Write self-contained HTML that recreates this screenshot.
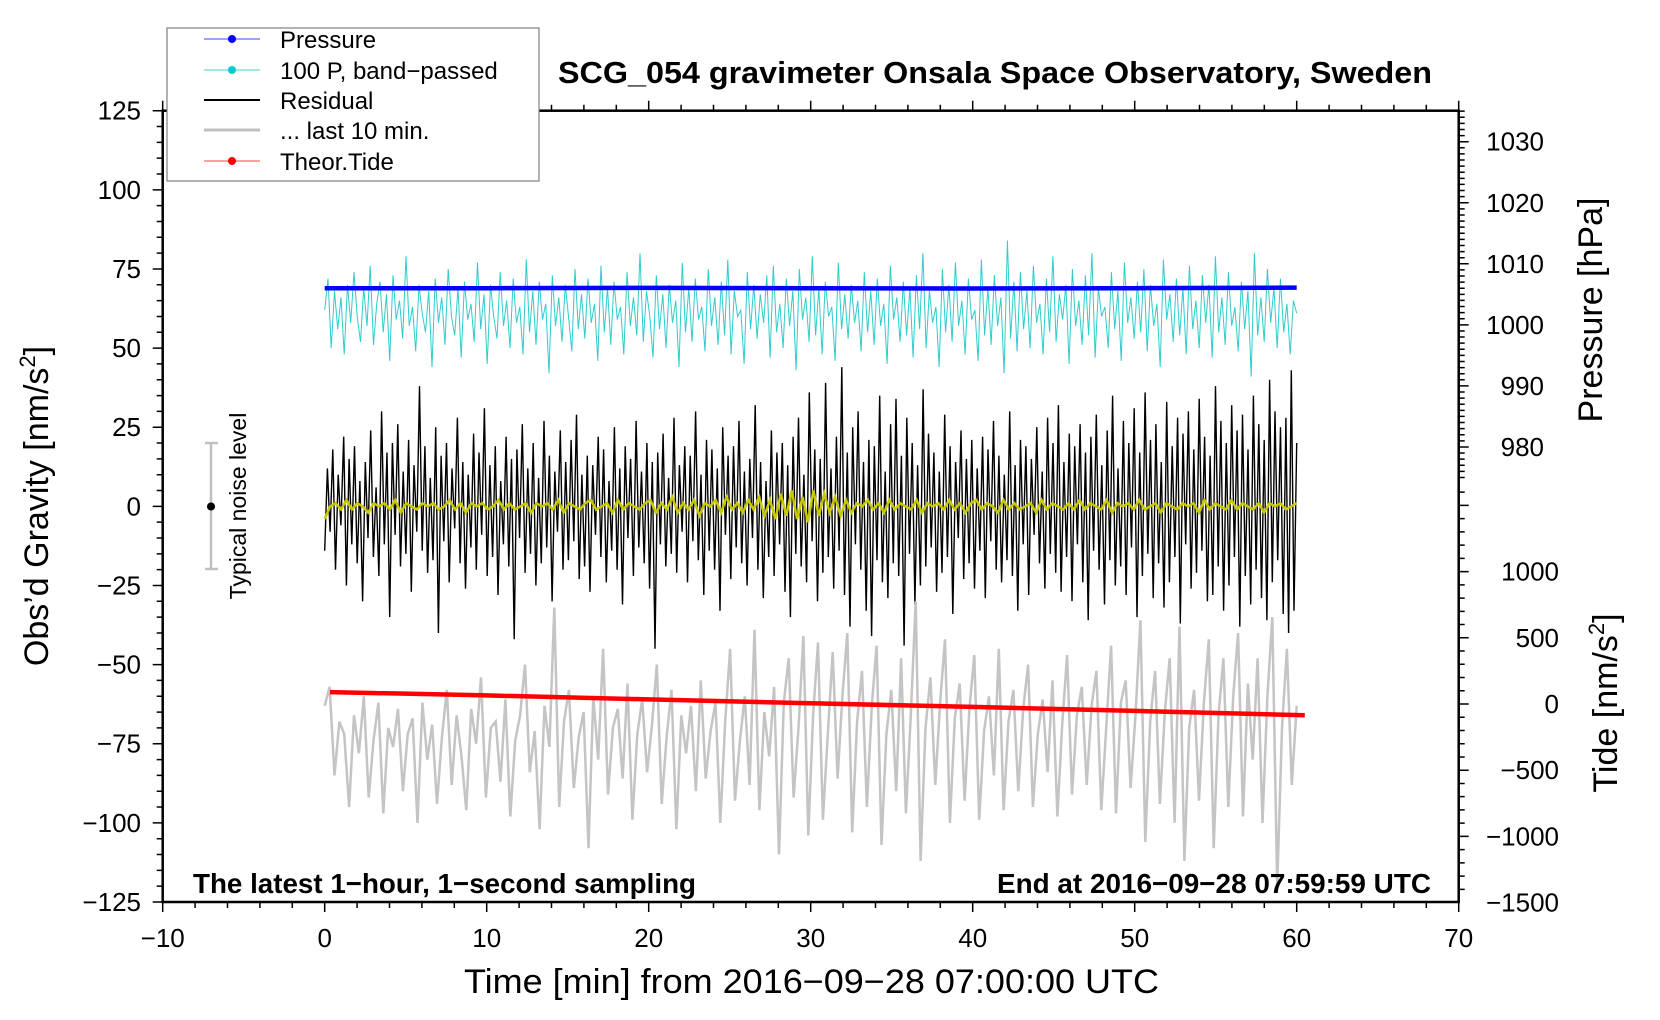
<!DOCTYPE html>
<html><head><meta charset="utf-8"><title>SCG_054 gravimeter</title>
<style>html,body{margin:0;padding:0;background:#fff}svg{display:block}text{font-family:"Liberation Sans",Arial,sans-serif}</style></head>
<body>
<svg id="chart" width="1660" height="1020" viewBox="0 0 1660 1020" xmlns="http://www.w3.org/2000/svg">
<rect x="0" y="0" width="1660" height="1020" fill="#fff"/>
<g id="series"></g>
<g id="axes"></g>
<text x="558" y="83" font-size="31" font-weight="bold" textLength="874" lengthAdjust="spacingAndGlyphs">SCG_054 gravimeter Onsala Space Observatory, Sweden</text>
<text x="464" y="993" font-size="34" textLength="695" lengthAdjust="spacingAndGlyphs">Time [min] from 2016−09−28 07:00:00 UTC</text>
<text transform="translate(48,506) rotate(-90)" text-anchor="middle" font-size="34">Obs’d Gravity [nm/s<tspan font-size="22" dy="-13">2</tspan><tspan dy="13">]</tspan></text>
<text transform="translate(1602,310) rotate(-90)" text-anchor="middle" font-size="34">Pressure [hPa]</text>
<text transform="translate(1617,703) rotate(-90)" text-anchor="middle" font-size="34">Tide [nm/s<tspan font-size="22" dy="-13">2</tspan><tspan dy="13">]</tspan></text>
<text x="193" y="893" font-size="28" font-weight="bold" textLength="503" lengthAdjust="spacingAndGlyphs">The latest 1−hour, 1−second sampling</text>
<text x="1431" y="893" font-size="28" font-weight="bold" text-anchor="end" textLength="434" lengthAdjust="spacingAndGlyphs">End at 2016−09−28 07:59:59 UTC</text>
<g>
<line x1="211" y1="443" x2="211" y2="569" stroke="#c0c0c0" stroke-width="2.5"/>
<line x1="205" y1="443" x2="218" y2="443" stroke="#c0c0c0" stroke-width="2.5"/>
<line x1="205" y1="569" x2="218" y2="569" stroke="#c0c0c0" stroke-width="2.5"/>
<circle cx="211" cy="506.5" r="4" fill="#000"/>
<text transform="translate(246,506) rotate(-90)" text-anchor="middle" font-size="23">Typical noise level</text>
</g>
<g>
<rect x="167" y="28" width="372" height="153" fill="#fff" stroke="#808080" stroke-width="1.2"/>
<g><line x1="204" y1="39" x2="260" y2="39" stroke="#4040ff" stroke-width="1"/><circle cx="232" cy="39" r="4" fill="#0000ff"/><text x="280" y="48" font-size="24">Pressure</text></g>
<g><line x1="204" y1="70" x2="260" y2="70" stroke="#40d0d0" stroke-width="1"/><circle cx="232" cy="70" r="4" fill="#00cccc"/><text x="280" y="79" font-size="24">100 P, band−passed</text></g>
<g><line x1="204" y1="100" x2="260" y2="100" stroke="#000" stroke-width="2"/><text x="280" y="109" font-size="24">Residual</text></g>
<g><line x1="204" y1="130" x2="260" y2="130" stroke="#c0c0c0" stroke-width="3"/><text x="280" y="139" font-size="24">... last 10 min.</text></g>
<g><line x1="204" y1="161" x2="260" y2="161" stroke="#ff4040" stroke-width="1"/><circle cx="232" cy="161" r="4" fill="#ff0000"/><text x="280" y="170" font-size="24">Theor.Tide</text></g>
</g>
</svg>
<script>
const residual=[-14,12,-8,18,-20,10,-6,22,-25,15,-12,19,-18,8,-30,14,-10,24,-16,6,-22,30,-12,17,-35,20,-9,26,-19,11,
-15,21,-27,13,-8,38,-14,19,-21,9,-17,25,-40,16,-11,20,-24,12,-7,28,-18,14,-26,10,-13,23,-20,17,-9,31,
-22,13,-16,19,-28,8,-12,22,-19,15,-42,18,-10,26,-21,12,-15,20,-25,9,-18,27,-13,16,-30,11,-8,24,-20,14,
-17,21,-11,29,-23,10,-19,16,-27,13,-9,22,-16,18,-24,8,-14,25,-20,12,-31,19,-10,15,-22,27,-13,11,-18,20,
-26,14,-45,17,-12,23,-19,9,-15,28,-21,13,-8,19,-24,16,-11,30,-17,10,-28,21,-14,18,-20,12,-33,25,-9,16,
-23,19,-13,27,-18,11,-25,15,-10,32,-20,14,-29,8,-16,24,-22,17,-12,20,-27,13,-35,22,-15,28,-19,10,-24,36,
-11,18,-30,15,-21,39,-16,12,-26,22,-14,44,-28,17,-38,25,-12,30,-20,14,-33,21,-41,19,-17,35,-24,11,-29,26,
-18,34,-22,16,-44,28,-15,20,-31,13,-25,37,-19,23,-13,17,-27,11,-21,29,-16,19,-34,14,-10,24,-23,15,-18,21,
-26,12,-14,22,-29,18,-11,27,-20,16,-24,10,-17,30,-22,13,-33,21,-12,19,-28,15,-9,25,-18,11,-26,28,-15,20,
-21,32,-27,14,-16,23,-30,19,-12,26,-24,17,-36,22,-14,29,-20,13,-31,24,-17,35,-25,12,-19,27,-28,20,-13,31,
-35,17,-22,36,-15,21,-29,26,-18,14,-32,33,-24,19,-16,28,-37,23,-12,30,-26,18,-21,34,-14,22,-30,16,-28,38,
-19,27,-33,20,-25,32,-16,24,-38,29,-22,18,-31,35,-20,26,-29,21,-36,40,-24,30,-17,25,-34,28,-40,43,-33,20];
const smoothed=[-4,0,1,-1,2,-1,1,0,-2,1,0,1,-1,2,-2,1,0,-1,1,0,
1,-1,0,2,-1,1,-2,1,0,1,-1,0,2,-1,1,-1,0,1,-2,1,
0,1,-1,2,-2,1,0,-1,1,2,-1,0,1,-2,2,-1,1,0,-1,1,
2,-2,1,-1,3,-2,1,-1,2,-3,1,0,2,-2,3,-1,1,-2,2,-1,
3,-3,2,-4,4,-3,5,-4,3,-5,5,-3,4,-2,3,-3,2,-2,1,0,
2,-1,1,-2,2,-1,1,0,-1,2,-2,1,0,1,-1,2,-1,1,-2,1,
2,-1,1,0,-2,2,-1,1,-1,0,1,-2,2,-1,1,0,-1,1,-1,2,
-1,1,0,-1,2,-2,1,0,1,-1,2,-1,0,1,-2,1,0,-1,1,0,
1,-2,2,-1,1,0,-1,2,-1,1,0,-1,1,-2,1,0,1,-1,0,1];
const bandPassed=[62,72,50,68,56,66,48,70,58,74,60,52,69,57,76,51,64,71,55,67,
46,73,59,65,53,79,57,63,49,70,61,55,68,44,72,58,66,51,75,60,
54,69,47,71,59,64,52,77,56,67,45,70,60,53,74,57,65,50,72,58,
63,48,78,55,68,51,71,59,64,42,73,57,66,52,70,60,49,75,56,67,
53,72,58,64,46,76,55,69,51,71,59,63,48,74,57,66,54,80,52,68,
60,47,73,56,67,50,70,58,65,44,77,55,69,52,72,59,63,49,75,57,
66,51,71,54,78,48,68,60,62,45,74,56,70,53,67,58,73,47,76,55,
64,50,72,57,68,43,75,59,66,52,79,54,69,48,71,60,63,46,77,56,
67,53,70,58,65,49,74,55,68,51,72,57,64,45,76,59,66,52,71,54,
69,47,73,56,80,50,68,58,63,44,75,55,70,52,77,57,65,48,72,59,
62,46,78,54,69,51,73,57,66,42,84,53,71,49,74,56,68,50,76,58,
64,48,72,55,79,52,67,59,70,45,75,57,65,51,73,54,80,47,69,60,
63,50,74,56,68,46,77,58,66,53,71,55,75,49,70,57,64,44,78,59,
67,52,72,54,69,48,76,56,65,50,73,58,70,47,79,55,66,51,74,57,
63,49,71,56,68,41,80,54,66,52,75,58,69,50,72,55,64,48,65,61];
const last10=[-63,-57,-85,-68,-72,-95,-66,-78,-60,-92,-74,-62,-97,-70,-76,-64,-90,-72,-67,-100,
-62,-80,-69,-94,-73,-58,-88,-66,-79,-96,-64,-75,-54,-92,-70,-68,-87,-61,-98,-74,
-66,-50,-84,-71,-102,-63,-76,-32,-95,-68,-58,-89,-73,-65,-108,-60,-80,-45,-91,-70,
-64,-86,-56,-99,-72,-61,-84,-69,-50,-94,-73,-58,-102,-66,-78,-63,-90,-55,-86,-71,
-62,-100,-68,-45,-93,-74,-60,-88,-39,-96,-65,-79,-57,-110,-62,-48,-92,-70,-41,-104,
-66,-43,-99,-72,-46,-86,-60,-40,-103,-68,-52,-95,-63,-44,-107,-72,-58,-90,-48,-97,
-66,-30,-112,-70,-54,-88,-62,-42,-100,-67,-56,-93,-64,-47,-99,-71,-60,-85,-45,-96,
-68,-58,-90,-64,-50,-95,-72,-61,-84,-55,-98,-69,-47,-91,-66,-57,-88,-63,-52,-96,
-70,-44,-97,-62,-55,-89,-66,-36,-106,-68,-52,-94,-65,-48,-100,-38,-112,-70,-58,-93,
-62,-42,-108,-66,-48,-95,-60,-40,-98,-56,-80,-48,-100,-60,-35,-120,-70,-45,-88,-63];
const pressureTimes=[0,10,20,30,40,50,60];
const pressureHPa=[1006.0,1006.0,1006.05,1006.0,1005.95,1006.0,1006.1];
const tideTimes=[0.33,10,20,30,40,50,60.5];
const tideNms2=[90,65,35,5,-22,-52,-85];
const xTicks=[-10,0,10,20,30,40,50,60,70];
const yTicks=[-125,-100,-75,-50,-25,0,25,50,75,100,125];
const pTicks=[980,990,1000,1010,1020,1030];
const tTicks=[-1500,-1000,-500,0,500,1000];

const NS='http://www.w3.org/2000/svg';
const L=162.7,R=1458.7,T=110.7,B=902;
const X=t=>L+(t+10)/80*(R-L);
const Y=v=>B-(v+125)/250*(B-T);
const P=p=>141.7+(1030-p)*6.105;
const TD=v=>704-v*0.1324;
const S=document.getElementById('series'),A=document.getElementById('axes');
function el(tag,attrs,parent){const e=document.createElementNS(NS,tag);for(const k in attrs)e.setAttribute(k,attrs[k]);parent.appendChild(e);return e;}
function path(xs,ys){return xs.map((x,i)=>(i?'L':'M')+x.toFixed(1)+' '+ys[i].toFixed(1)).join('');}
function seriesLine(vals,t0,t1,fy){const n=vals.length;const xs=vals.map((v,i)=>X(t0+(t1-t0)*i/(n-1)));return path(xs,vals.map(fy));}

let e;
e=el('path',{d:seriesLine(bandPassed,0,60,Y),fill:'none',stroke:'#30cccc','stroke-width':1},S);


e=el('path',{d:path(pressureTimes.map(X),pressureHPa.map(P)),fill:'none',stroke:'#0000ff','stroke-width':4.5},S);


e=el('path',{d:seriesLine(residual,0,60,Y),fill:'none',stroke:'#000','stroke-width':1.4},S);


e=el('path',{d:seriesLine(smoothed,0,60,Y),fill:'none',stroke:'#c8c800','stroke-width':2.5},S);


e=el('path',{d:seriesLine(last10,0,60,Y),fill:'none',stroke:'#c4c4c4','stroke-width':2.5},S);


e=el('path',{d:path(tideTimes.map(X),tideNms2.map(TD)),fill:'none',stroke:'#ff0000','stroke-width':4.5},S);



e=el('rect',{x:L,y:T,width:R-L,height:B-T,fill:'none',stroke:'#000','stroke-width':2.5},A);


let tk='';
for(let t=-10;t<=70;t+=2){const big=t%10===0;const x=X(t);tk+=`M${x} ${B}v${big?10:6}M${x} ${T}v-${big?10:6}`;}
for(let v=-125;v<=125;v+=5){const big=v%25===0;tk+=`M${L} ${Y(v)}h-${big?10:6}`;}
for(let p=975;p<=1035;p++){const y=P(p);if(y<T||y>480)continue;tk+=`M${R} ${y}h${p%10===0?10:6}`;}
for(let v=-1500;v<=1700;v+=100){const y=TD(v);if(y<480||y>B)continue;tk+=`M${R} ${y}h${v%500===0?10:6}`;}
e=el('path',{d:tk,stroke:'#000','stroke-width':1.5,fill:'none'},A);


const fmt=v=>String(v).replace('-','\u2212');
xTicks.forEach(t=>{const tx=el('text',{x:X(t),y:947,'font-size':26,'text-anchor':'middle'},A);tx.textContent=fmt(t);

});
yTicks.forEach(v=>{const tx=el('text',{x:141,y:Y(v)+9,'font-size':26,'text-anchor':'end'},A);tx.textContent=fmt(v);

});
pTicks.forEach(v=>{const tx=el('text',{x:1544,y:P(v)+9,'font-size':26,'text-anchor':'end'},A);tx.textContent=fmt(v);

});
tTicks.forEach(v=>{const tx=el('text',{x:1559,y:TD(v)+9,'font-size':26,'text-anchor':'end'},A);tx.textContent=fmt(v);

});
</script>
</body></html>
